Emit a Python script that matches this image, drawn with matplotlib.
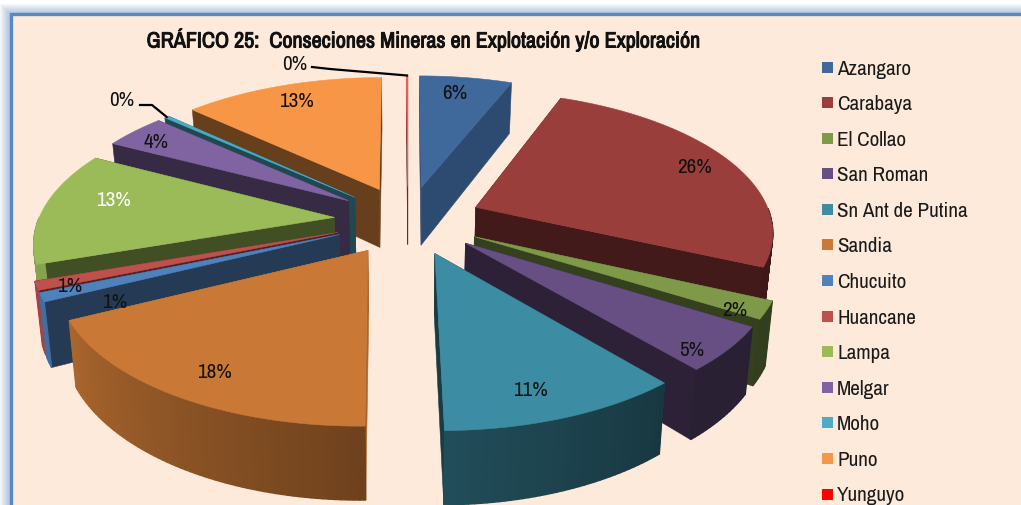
import numpy as np
import matplotlib
matplotlib.use("Agg")
import matplotlib.pyplot as plt
import matplotlib.patheffects as pe
from matplotlib.patches import Polygon, Rectangle

plt.rcParams["font.family"] = ["Archivo Narrow", "Liberation Sans", "DejaVu Sans"]

# data
provinces = ["Azangaro", "Carabaya", "El Collao", "San Roman", "Sn Ant de Putina", "Sandia", "Chucuito",
             "Huancane", "Lampa", "Melgar", "Moho", "Puno", "Yunguyo"]
percents = [6, 26, 2, 5, 11, 18, 1, 1, 13, 4, 0.3, 13, 0.1]
top_colors = ["#3F689B", "#9A3E3C", "#7E9A48", "#684F83", "#3C8CA3", "#C97835", "#4F81BD",
              "#BE504D", "#9BBB59", "#8064A2", "#4BACC6", "#F79646", "#FF6060"]
legend_colors = ["#3F689B", "#9A3E3C", "#7E9A48", "#684F83", "#3D8CA4", "#C97A37", "#4F81BD",
                 "#BE504D", "#9BBB59", "#8064A2", "#4BACC6", "#F79646", "#FF0000"]
cut_shades = [0.72, 0.42, 0.42, 0.42, 0.42, 0.85, 0.45, 0.42, 0.42, 0.42, 0.42, 0.42, 0.42]
title = "GRÁFICO 25:  Conseciones Mineras en Explotación y/o Exploración"

# where each percentage label sits, in pixels
label_xy = [(455, 92), (694, 166), (735, 309), (692, 350), (530, 390), (214, 372), (115, 301),
            (70, 286), (113, 199), (156, 141), (122, 99), (296, 100), (295, 63)]
label_colors = ["#111111"] * 13
label_colors[8] = "#FFFFFF"

# 3d look of the pie
cx, cy = 408, 221
rx, ry = 296, 138
persp = 0.155
explode = 0.25
depth = 60
bg = "#FDEADA"


def project(x, y, low=False):
    f = 1 / (1 + persp * y)
    sx = cx + x * rx * f
    sy = cy - y * ry * f
    if low:
        sx = cx + (sx - cx) * 0.98
        sy = sy + depth * f
    return sx, sy


def shade(color, amount):
    return tuple(np.array(matplotlib.colors.to_rgb(color)) * amount)


fig = plt.figure(figsize=(10.21, 5.06), dpi=100)
ax = fig.add_axes([0, 0, 1, 1])
ax.set_xlim(0, 1021)
ax.set_ylim(506, 0)
ax.axis("off")

# frame with the soft glow around it
ax.add_patch(Rectangle((0, 0), 1021, 506, color="white", zorder=0))
for i in range(10):
    ax.add_patch(Rectangle((9 - i, 14 - i), 1100, 600, color="#4F81BD", alpha=0.05, lw=0, zorder=0))
ax.add_patch(Rectangle((10.5, 15), 1100, 600, facecolor=bg, edgecolor="#5A88C2", lw=2.4, zorder=1))

# slices
total = sum(percents)
edges = np.cumsum([0] + percents) / total * 2 * np.pi
mids = (edges[:-1] + edges[1:]) / 2
order = np.argsort(-np.cos(mids))

for i in order:
    a0, a1 = edges[i], edges[i + 1]
    ox, oy = explode * np.sin(mids[i]), explode * np.cos(mids[i])
    n = max(int((a1 - a0) * 60), 2)
    angs = np.linspace(a0, a1, n)
    arc_x = ox + np.sin(angs)
    arc_y = oy + np.cos(angs)
    top = [project(ox, oy)] + [project(x, y) for x, y in zip(arc_x, arc_y)]

    # the two cut faces
    for ang in (a0, a1):
        ex, ey = ox + np.sin(ang), oy + np.cos(ang)
        face = [project(ox, oy), project(ex, ey), project(ex, ey, True), project(ox, oy, True)]
        c = shade(top_colors[i], cut_shades[i])
        ax.add_patch(Polygon(face, facecolor=c, edgecolor=c, lw=0.4, zorder=5))
    # outer wall, a strip per step so the shading can change; only the part facing the viewer
    for j in range(n - 1):
        mid_ang = (angs[j] + angs[j + 1]) / 2
        if np.cos(mid_ang) > 0:
            continue
        c = shade(top_colors[i], np.interp(np.degrees(mid_ang), [100, 140, 180, 245, 300],
                                           [0.4, 0.4, 0.55, 0.85, 0.9]))
        strip = [project(arc_x[j], arc_y[j]), project(arc_x[j + 1], arc_y[j + 1]),
                 project(arc_x[j + 1], arc_y[j + 1], True), project(arc_x[j], arc_y[j], True)]
        ax.add_patch(Polygon(strip, facecolor=c, edgecolor=c, lw=1.0, zorder=5))
    ax.add_patch(Polygon(top, facecolor=top_colors[i], edgecolor=top_colors[i], lw=0.4, zorder=5))

# percentage labels
for i, (x, y) in enumerate(label_xy):
    ax.text(x, y + 1, f"{percents[i]:.0f}%", ha="center", va="center", fontsize=15.2, color=label_colors[i], zorder=8)

# leader lines of the two 0% slices
for i, elbow in ((12, [(312, 68), (330, 70)]), (10, [(140, 106), (152, 106)])):
    ang = mids[i]
    end = project(explode * np.sin(ang) + np.sin(ang), explode * np.cos(ang) + np.cos(ang))
    pts = np.array(elbow + [end])
    ax.plot(pts[:, 0], pts[:, 1], color="black", lw=1.6, zorder=8)

# the narrow font has no bold cut here, a thin stroke thickens it
ax.text(423, 41, title, ha="center", va="center", fontsize=15.9, fontweight="bold", color="#111111", zorder=8,
        path_effects=[pe.withStroke(linewidth=0.7, foreground="#111111")])

# legend
ys = np.linspace(68, 495, len(provinces))
for name, c, y in zip(provinces, legend_colors, ys):
    ax.add_patch(Rectangle((822, y - 5.5), 11, 11, color=c, lw=0, zorder=8))
    ax.text(837, y + 1, name, ha="left", va="center", fontsize=15.2, color="#1A1A1A", zorder=8)

fig.savefig("out.png", dpi=100)
